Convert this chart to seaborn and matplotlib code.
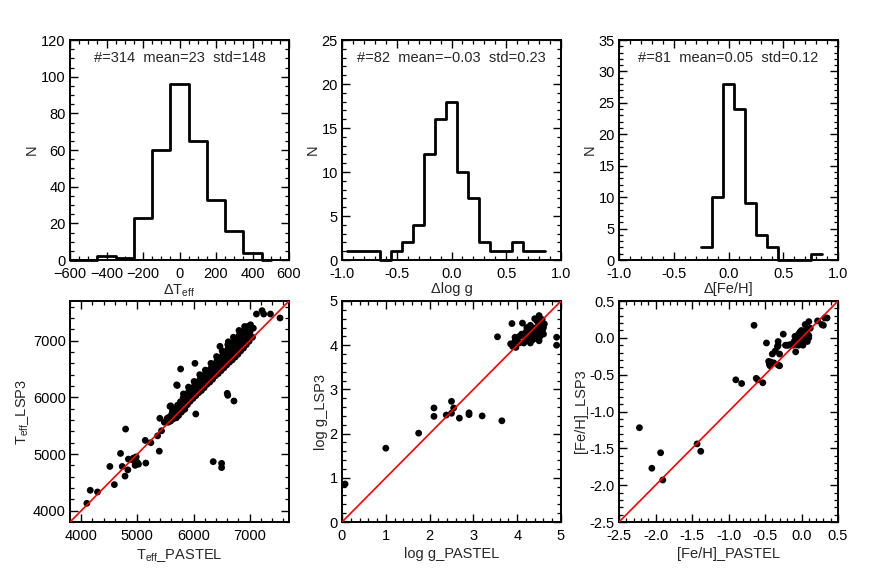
import numpy as np
import pandas as pd
import matplotlib
matplotlib.use("Agg")
import matplotlib.pyplot as plt
from matplotlib.ticker import MultipleLocator, FormatStrFormatter
import seaborn as sns

# ---------------- data ----------------
# histogram of Delta Teff
teff_edges = [-600, -450, -350, -250, -150, -50, 50, 150, 250, 350, 450, 500]
teff_counts = [0, 2, 1, 23, 60, 96, 65, 33, 16, 4, 0]
teff_stats = "#=314  mean=23  std=148"

# histogram of Delta log g
logg_edges = [-0.95, -0.85, -0.75, -0.65, -0.55, -0.45, -0.35, -0.25, -0.15, -0.05,
              0.05, 0.15, 0.25, 0.35, 0.45, 0.55, 0.65, 0.75, 0.85]
logg_counts = [1, 1, 1, 0, 1, 2, 4, 12, 16, 18, 10, 7, 2, 1, 1, 2, 1, 1]
logg_stats = "#=82  mean=\u22120.03  std=0.23"

# histogram of Delta [Fe/H]
feh_edges = [-0.25, -0.15, -0.05, 0.05, 0.15, 0.25, 0.35, 0.45, 0.55, 0.65, 0.75, 0.85]
feh_counts = [2, 10, 28, 24, 9, 4, 2, 0, 0, 0, 1]
feh_stats = "#=81  mean=0.05  std=0.12"

# Teff scatter (PASTEL vs LSP3): isolated stars, then the dense band
teff_pastel = [
    4100, 4160, 4290, 4510, 4590, 4700, 4730, 4790, 4780, 4830, 4840, 4900, 4950, 4980,
    5000, 5020, 4960, 4930, 5150, 5140, 5240, 5360, 5390, 5400, 5430, 5530, 5580, 5710,
    5770, 6025, 6040, 6350, 6500, 6500, 6600, 6610, 6720, 7120, 7220, 7250, 7370, 7540,
    5700, 5593, 6620, 6470, 5480,
    5550, 5565, 5590, 5610, 5625, 5640, 5660, 5675, 5690, 5705, 5715, 5695, 5740, 5755,
    5765, 5735, 5790, 5805, 5815, 5785, 5820, 5840, 5855, 5865, 5845, 5890, 5905, 5915,
    5895, 5910, 5940, 5955, 5965, 5945, 5990, 6005, 6015, 5995, 6010, 6040, 6055, 6065,
    6045, 6090, 6105, 6115, 6095, 6110, 6140, 6155, 6165, 6145, 6190, 6205, 6215, 6195,
    6210, 6240, 6255, 6265, 6245, 6290, 6305, 6315, 6295, 6310, 6340, 6355, 6365, 6345,
    6390, 6405, 6415, 6395, 6410, 6440, 6455, 6465, 6445, 6490, 6505, 6515, 6495, 6510,
    6540, 6555, 6565, 6545, 6590, 6605, 6615, 6595, 6610, 6640, 6655, 6665, 6645, 6690,
    6705, 6715, 6695, 6710, 6740, 6755, 6765, 6745, 6790, 6805, 6815, 6795, 6810, 6840,
    6855, 6865, 6845, 6890, 6905, 6915, 6895, 6910, 6940, 6955, 6965, 6945, 6990, 7005,
    7015, 7050, 7065,
]
teff_lsp3 = [
    4130, 4360, 4330, 4780, 4460, 5010, 4780, 5440, 4610, 4720, 4910, 4900, 4870, 4950,
    4850, 4820, 4800, 4930, 4840, 5240, 5200, 5320, 5050, 5630, 5410, 5630, 5840, 6210,
    6500, 6600, 5706, 4865, 4835, 4760, 6070, 6035, 5935, 7470, 7530, 7470, 7470, 7400,
    6220, 5850, 6980, 6900, 5560,
    5560, 5650, 5580, 5700, 5760, 5620, 5720, 5800, 5680, 5760, 5860, 5640, 5730, 5820,
    5920, 5680, 5780, 5880, 5990, 5740, 6060, 5830, 5950, 6040, 5790, 5870, 6000, 6100,
    5950, 6180, 5930, 6050, 6150, 5990, 5980, 6100, 6200, 6040, 6280, 6030, 6160, 6260,
    6090, 6080, 6200, 6320, 6150, 6400, 6120, 6250, 6360, 6190, 6170, 6300, 6420, 6240,
    6480, 6230, 6360, 6470, 6300, 6270, 6410, 6520, 6340, 6600, 6320, 6450, 6580, 6400,
    6380, 6520, 6640, 6450, 6720, 6420, 6560, 6680, 6500, 6470, 6620, 6740, 6540, 6820,
    6520, 6680, 6800, 6600, 6570, 6730, 6860, 6650, 6930, 6620, 6790, 6920, 6700, 6660,
    6840, 6980, 6760, 7060, 6710, 6900, 7040, 6820, 6760, 6950, 7100, 6880, 7180, 6820,
    7010, 7150, 6930, 6870, 7060, 7200, 6980, 7250, 6930, 7100, 7250, 7020, 6990, 7150,
    7280, 7060, 7220,
]

# log g scatter
logg_pastel = [
    0.07, 1.00, 1.75, 2.10, 2.10, 2.38, 2.50, 2.50, 2.55, 2.68, 2.90, 2.90, 3.20, 3.65,
    3.55, 3.85, 3.88, 3.90, 3.95, 3.97, 4.00, 4.05, 4.10, 4.12, 4.20, 4.25, 4.28, 4.30,
    4.30, 4.35, 4.38, 4.40, 4.42, 4.45, 4.48, 4.50, 4.50, 4.52, 4.55, 4.58, 4.60, 4.62,
    4.30, 4.25, 4.35, 4.45, 4.40, 4.55, 4.50, 4.20, 4.15, 3.95, 4.05, 4.60, 4.90, 4.90,
    4.33, 4.37, 4.47, 4.27, 4.43, 4.53, 4.22, 4.18, 4.57, 4.32,
]
logg_lsp3 = [
    0.86, 1.67, 2.01, 2.58, 2.39, 2.42, 2.73, 2.46, 2.58, 2.35, 2.47, 2.43, 2.40, 2.29,
    4.19, 4.03, 4.49, 3.97, 4.10, 3.95, 4.15, 4.05, 4.25, 4.50, 4.20, 4.38, 4.10, 4.05,
    4.30, 4.40, 4.20, 4.15, 4.35, 4.55, 4.30, 4.67, 4.40, 4.20, 4.50, 4.35, 4.25, 4.48,
    4.45, 4.15, 4.12, 4.25, 4.60, 4.28, 4.10, 4.30, 4.05, 4.18, 4.20, 4.40, 4.18, 4.00,
    4.33, 4.27, 4.42, 4.36, 4.22, 4.32, 4.40, 4.12, 4.58, 4.16,
]

# [Fe/H] scatter
feh_pastel = [
    -2.22, -2.05, -1.93, -1.90, -1.43, -1.38, -0.90, -0.82, -0.65, -0.62, -0.60, -0.53,
    -0.48, -0.45, -0.44, -0.43, -0.42, -0.40, -0.38, -0.36, -0.33, -0.32, -0.32, -0.30,
    -0.30, -0.32, -0.25, -0.22, -0.18, -0.15, -0.12, -0.10, -0.08, -0.07, -0.05, -0.04,
    -0.03, -0.02, 0.00, 0.00, 0.02, 0.03, 0.05, 0.05, 0.07, 0.08, 0.08, 0.10, 0.10,
    0.12, 0.10, -0.06, -0.04, 0.22, 0.28, 0.30, 0.32, 0.35, -0.09, -0.20, 0.00, 0.02,
]
feh_lsp3 = [
    -1.22, -1.77, -1.56, -1.93, -1.44, -1.54, -0.57, -0.62, 0.17, -0.55, -0.57, -0.61,
    -0.07, -0.32, -0.36, -0.38, -0.33, -0.22, -0.34, -0.18, -0.12, -0.05, -0.37, -0.38,
    -0.22, -0.10, 0.05, -0.10, -0.10, -0.09, -0.10, -0.05, -0.19, -0.09, -0.02, 0.05,
    0.00, 0.08, 0.06, -0.05, -0.10, 0.02, 0.00, 0.18, 0.12, 0.05, -0.05, 0.22, 0.03,
    0.13, 0.00, -0.08, -0.10, 0.23, 0.18, 0.17, 0.27, 0.27, 0.02, -0.10, 0.10, 0.00,
]

# ---------------- style ----------------
sns.set_theme(style="ticks")
plt.rcParams["font.family"] = ["Liberation Sans", "DejaVu Sans"]
plt.rcParams["mathtext.fontset"] = "custom"
plt.rcParams["mathtext.rm"] = "Liberation Sans"
plt.rcParams["mathtext.it"] = "Liberation Sans:italic"
plt.rcParams["axes.unicode_minus"] = True

FS = 10.5
fig = plt.figure(figsize=(8.72, 5.80), dpi=100)

W, H = 872.0, 580.0
cols = [70, 342, 619]
aw = 219
top_row = (40, 260)
bot_row = (301, 522)


def make_ax(col, row):
    x0 = cols[col]
    y0, y1 = row
    return fig.add_axes([x0 / W, 1 - y1 / H, aw / W, (y1 - y0) / H])


def style(ax, xmaj, xmin, ymaj, ymin):
    ax.xaxis.set_major_locator(MultipleLocator(xmaj))
    ax.xaxis.set_minor_locator(MultipleLocator(xmin))
    ax.yaxis.set_major_locator(MultipleLocator(ymaj))
    ax.yaxis.set_minor_locator(MultipleLocator(ymin))
    ax.tick_params(which="both", direction="in", top=True, right=True,
                   color="black", labelsize=FS, labelcolor="black")
    ax.tick_params(which="major", length=6, width=1.0)
    ax.tick_params(which="minor", length=3, width=0.9)
    ax.tick_params(axis="x", which="major", pad=5)
    ax.tick_params(axis="y", which="major", pad=3)
    for s in ax.spines.values():
        s.set_visible(True)
        s.set_linewidth(1.4)
        s.set_color("black")
    ax.set_facecolor("white")


def hist_panel(ax, edges, counts, xlim, ylim, xmaj, xmin, ymaj, ymin, xlabel, stats):
    edge_arr = np.asarray(edges, dtype=float)
    df = pd.DataFrame({"center": 0.5 * (edge_arr[:-1] + edge_arr[1:]),
                       "count": np.asarray(counts, dtype=float)})
    sns.histplot(data=df, x="center", weights="count", bins=list(edges),
                 element="step", fill=False, color="black", linewidth=2.0, ax=ax)
    for art in list(ax.lines) + list(ax.collections) + list(ax.patches):
        art.set_clip_on(False)
        art.set_zorder(5)
    ax.set_xlim(*xlim)
    ax.set_ylim(*ylim)
    style(ax, xmaj, xmin, ymaj, ymin)
    ax.set_xlabel(xlabel, fontsize=FS, labelpad=1)
    ax.set_ylabel("N", fontsize=FS, labelpad=1.5)
    ax.text(0.5, 0.92, stats, transform=ax.transAxes, ha="center", va="center",
            fontsize=FS)


def scatter_panel(ax, x, y, lim, maj, mnr, xlabel, ylabel):
    df = pd.DataFrame({"x": x, "y": y})
    sns.scatterplot(data=df, x="x", y="y", color="black", s=24, edgecolor="none",
                    ax=ax, zorder=3)
    ax.axline((lim[0], lim[0]), slope=1, color="#ff0000", lw=1.2, zorder=4)
    ax.set_xlim(*lim)
    ax.set_ylim(*lim)
    style(ax, maj, mnr, maj, mnr)
    ax.set_xlabel(xlabel, fontsize=FS, labelpad=3)
    ax.set_ylabel(ylabel, fontsize=FS, labelpad=1.5)


ax1 = make_ax(0, top_row)
hist_panel(ax1, teff_edges, teff_counts, (-600, 600), (0, 120), 200, 50, 20, 5,
           "\u0394T$_{\\rm eff}$", teff_stats)
ax2 = make_ax(1, top_row)
hist_panel(ax2, logg_edges, logg_counts, (-1.0, 1.0), (0, 25), 0.5, 0.1, 5, 1,
           "\u0394log g", logg_stats)
ax3 = make_ax(2, top_row)
hist_panel(ax3, feh_edges, feh_counts, (-1.0, 1.0), (0, 35), 0.5, 0.1, 5, 1,
           "\u0394[Fe/H]", feh_stats)

ax4 = make_ax(0, bot_row)
scatter_panel(ax4, teff_pastel, teff_lsp3, (3800, 7700), 1000, 200,
              "T$_{\\rm eff}$_PASTEL", "T$_{\\rm eff}$_LSP3")
ax5 = make_ax(1, bot_row)
scatter_panel(ax5, logg_pastel, logg_lsp3, (0, 5), 1, 0.2,
              "log g_PASTEL", "log g_LSP3")
ax6 = make_ax(2, bot_row)
scatter_panel(ax6, feh_pastel, feh_lsp3, (-2.5, 0.5), 0.5, 0.1,
              "[Fe/H]_PASTEL", "[Fe/H]_LSP3")

for ax in (ax2, ax3, ax6):
    ax.xaxis.set_major_formatter(FormatStrFormatter("%.1f"))
ax6.yaxis.set_major_formatter(FormatStrFormatter("%.1f"))

fig.savefig("out.png", dpi=100, facecolor="white")
